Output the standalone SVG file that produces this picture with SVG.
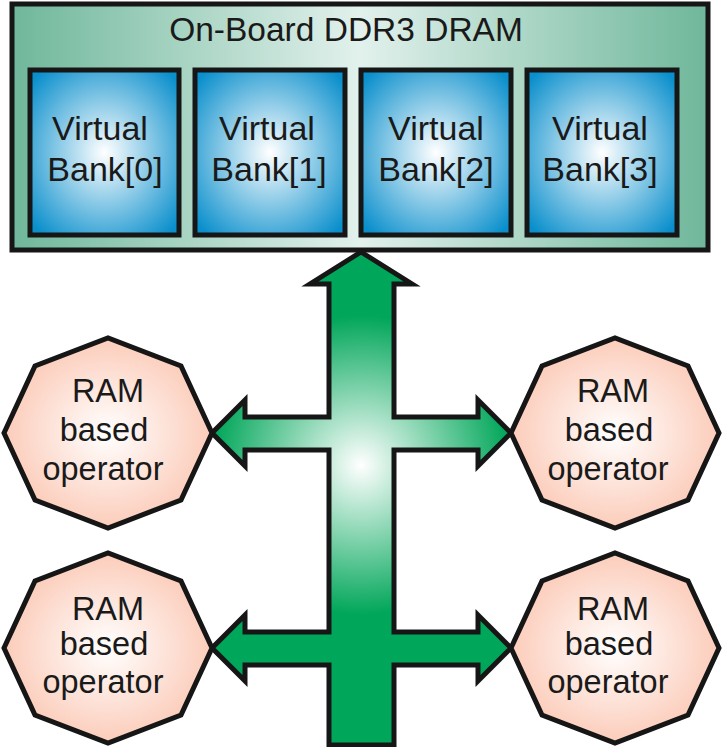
<svg xmlns="http://www.w3.org/2000/svg" width="723" height="747" viewBox="0 0 723 747">
<style>
text{font-family:"Liberation Sans",Arial,sans-serif;fill:#1a1a1a;text-anchor:middle}
.b{font-size:34px}.o{font-size:32.5px}
.s{stroke:#161616;stroke-width:5}
</style>
<defs>
<linearGradient id="gOut" x1="0" y1="0" x2="1" y2="0">
<stop offset="0" stop-color="#6fb79b"/><stop offset="0.5" stop-color="#e2f1ec"/><stop offset="1" stop-color="#6fb79b"/>
</linearGradient>
<radialGradient id="gBank" cx="0.5" cy="0.5" r="0.65"><stop offset="0" stop-color="#ffffff"/><stop offset="1" stop-color="#0a8fcc"/></radialGradient>
<radialGradient id="gOct" cx="0.5" cy="0.5" r="0.6"><stop offset="0" stop-color="#ffffff"/><stop offset="1" stop-color="#fbc2ac"/></radialGradient>
<radialGradient id="gArr" gradientUnits="userSpaceOnUse" cx="361" cy="465" r="150"><stop offset="0" stop-color="#ffffff"/><stop offset="1" stop-color="#00a659"/></radialGradient>
<polygon id="oct" points="104,0 73,-67 0,-95 -73,-67 -104,0 -73,67 0,95 73,67"/>
</defs>
<g id="dram">
<rect x="12" y="4" width="696" height="246" fill="url(#gOut)" class="s"/>
<text x="346" y="41" style="font-size:33.5px">On-Board DDR3 DRAM</text>
</g>
<g id="bank0"><rect x="30" y="70" width="149" height="165" fill="url(#gBank)" class="s"/><text class="b" x="100" y="140">Virtual</text><text class="b" x="105" y="181">Bank[0]</text></g>
<g id="bank1"><rect x="195" y="70" width="150" height="165" fill="url(#gBank)" class="s"/><text class="b" x="267" y="140">Virtual</text><text class="b" x="269" y="181">Bank[1]</text></g>
<g id="bank2"><rect x="361" y="70" width="150" height="165" fill="url(#gBank)" class="s"/><text class="b" x="436" y="140">Virtual</text><text class="b" x="436" y="181">Bank[2]</text></g>
<g id="bank3"><rect x="527" y="70" width="150" height="165" fill="url(#gBank)" class="s"/><text class="b" x="600" y="140">Virtual</text><text class="b" x="600" y="181">Bank[3]</text></g>
<g id="connectors">
<path d="M361,252 L412,284 L394,284 L394,417 L478,417 L478,400 L511,433 L478,466 L478,450 L394,450 L394,632 L478,632 L478,615 L511,648 L478,681 L478,665 L394,665 L394,745 L329,745 L329,665 L245,665 L245,681 L212,648 L245,615 L245,632 L329,632 L329,450 L245,450 L245,466 L212,433 L245,400 L245,417 L329,417 L329,284 L310,284 Z" fill="url(#gArr)" class="s"/>
</g>
<g id="op1"><use href="#oct" transform="translate(108,433)" fill="url(#gOct)" class="s"/><text class="o" x="108" y="402">RAM</text><text class="o" x="104" y="441">based</text><text class="o" x="103" y="480">operator</text></g>
<g id="op2"><use href="#oct" transform="translate(615,433)" fill="url(#gOct)" class="s"/><text class="o" x="613" y="402">RAM</text><text class="o" x="609" y="441">based</text><text class="o" x="608" y="480">operator</text></g>
<g id="op3"><use href="#oct" transform="translate(108,648)" fill="url(#gOct)" class="s"/><text class="o" x="108" y="620">RAM</text><text class="o" x="104" y="655">based</text><text class="o" x="103" y="693">operator</text></g>
<g id="op4"><use href="#oct" transform="translate(615,648)" fill="url(#gOct)" class="s"/><text class="o" x="613" y="620">RAM</text><text class="o" x="609" y="655">based</text><text class="o" x="608" y="693">operator</text></g>
</svg>
